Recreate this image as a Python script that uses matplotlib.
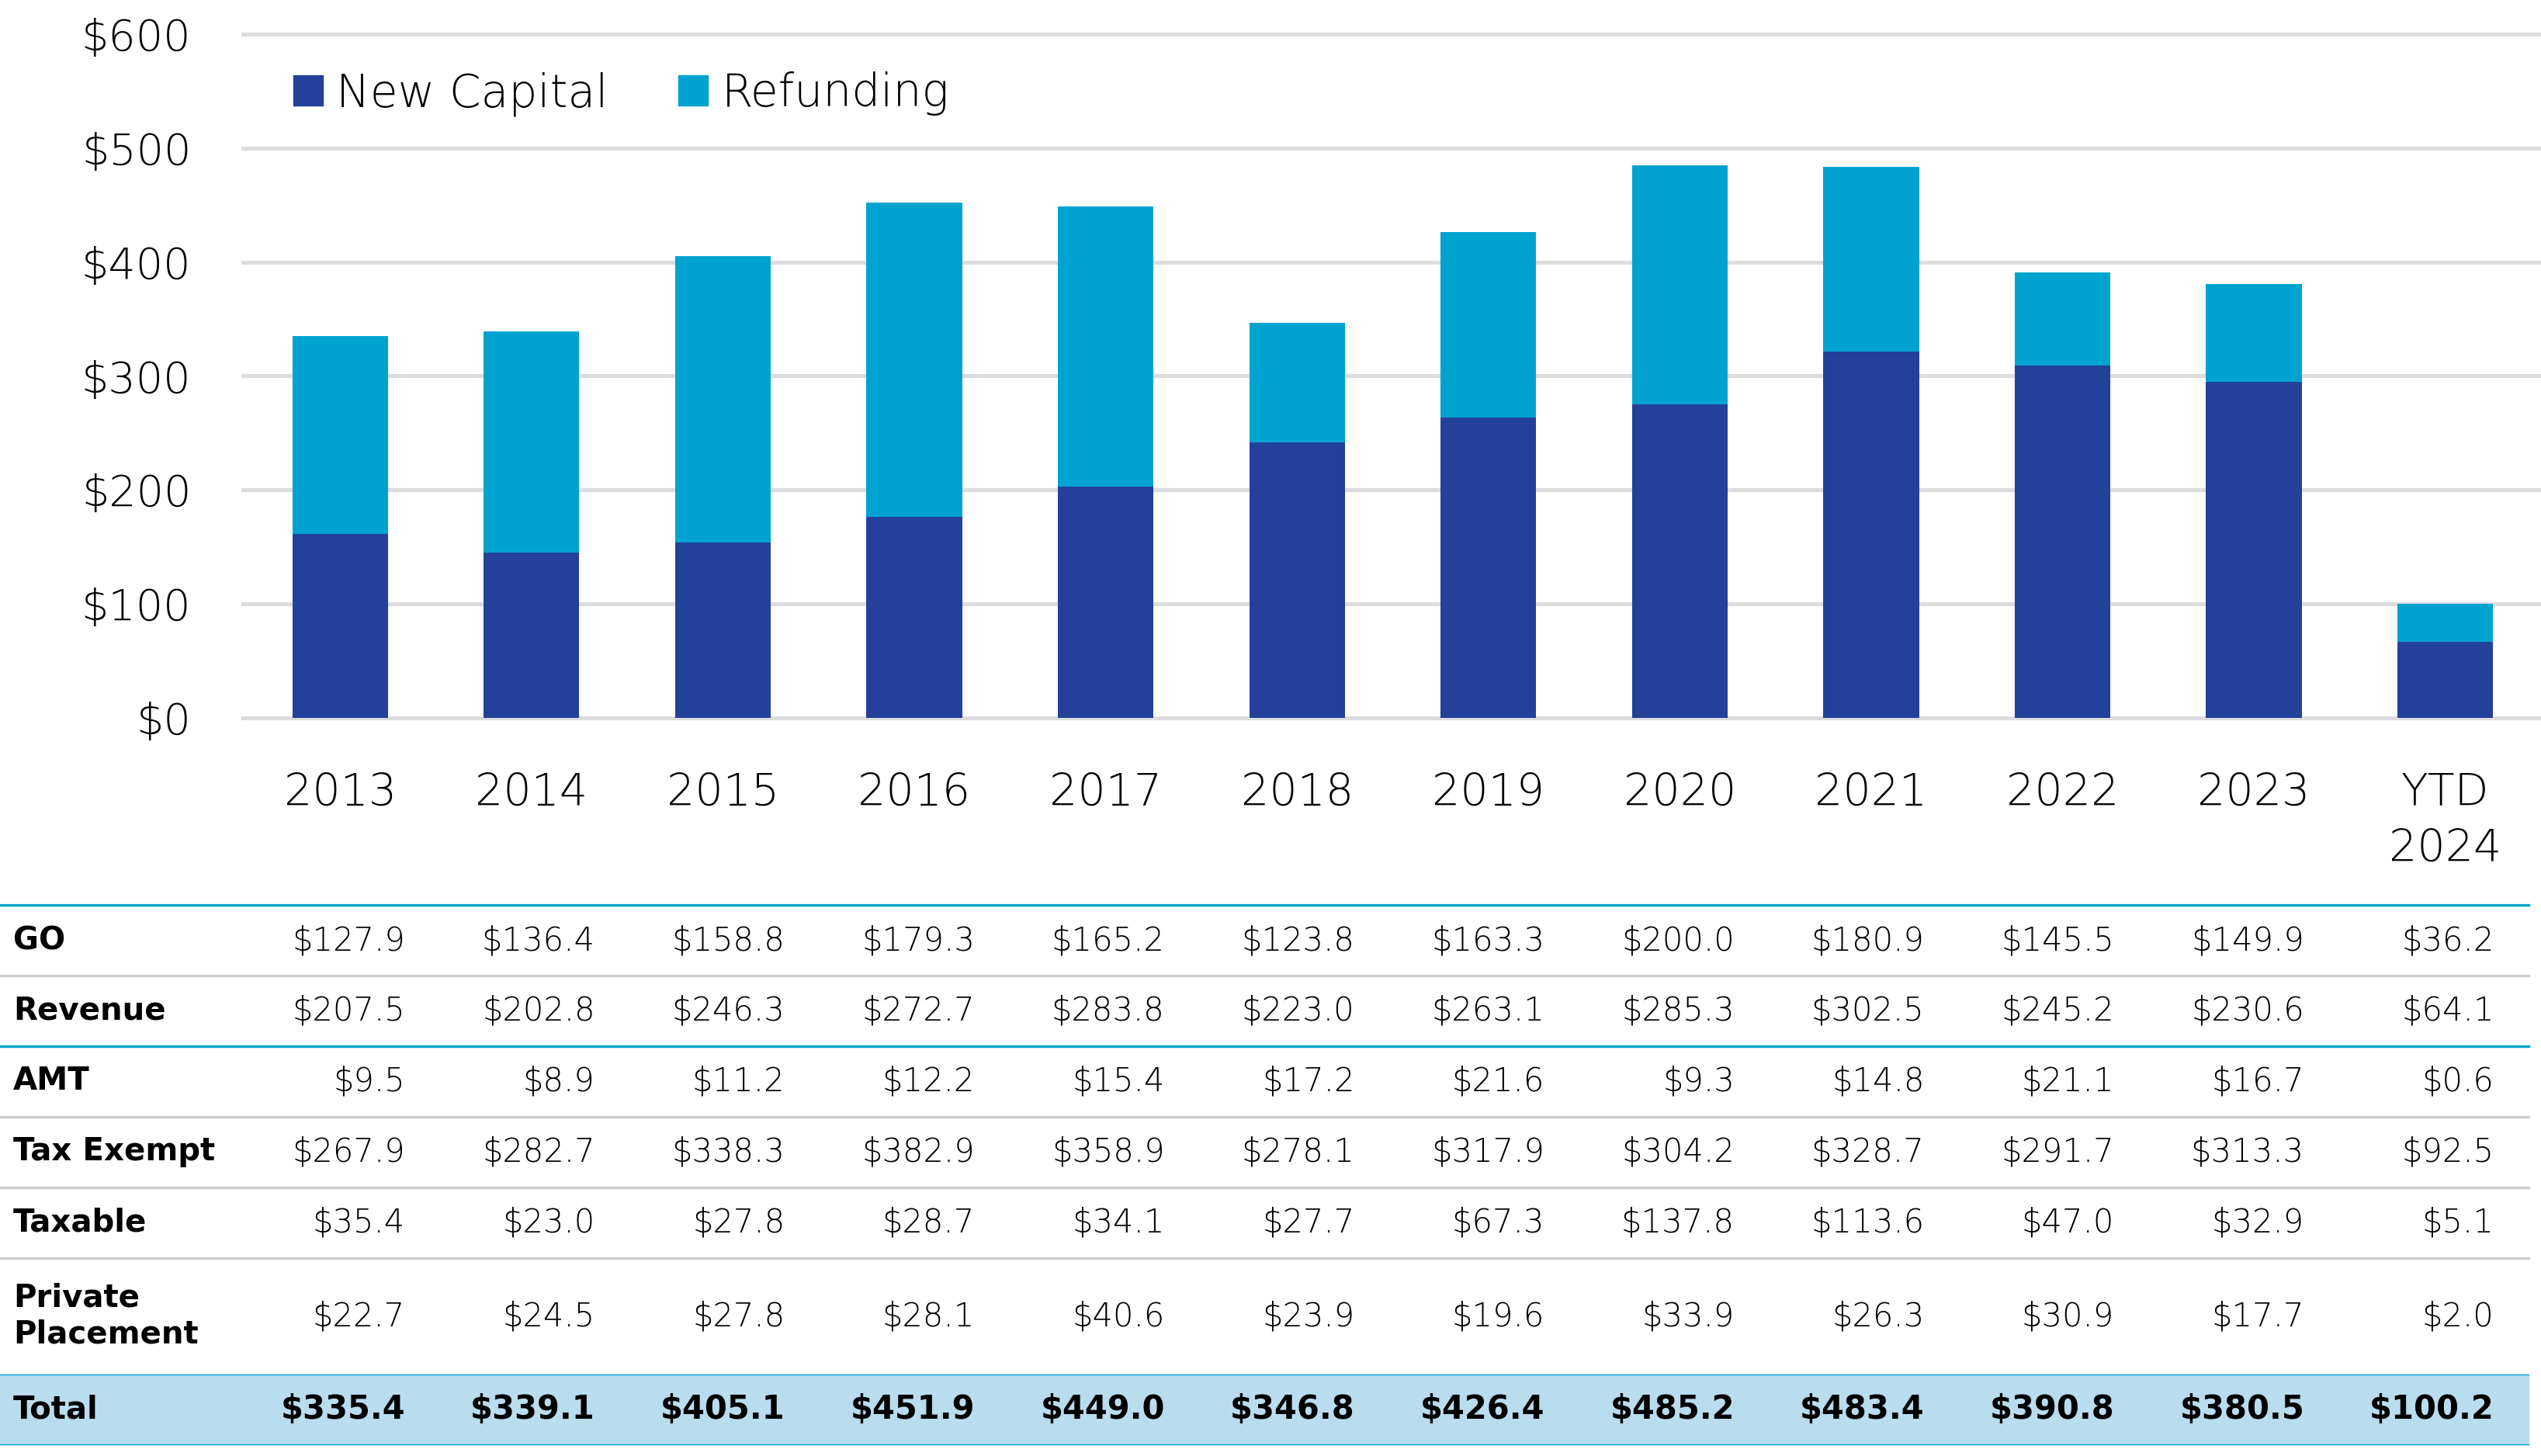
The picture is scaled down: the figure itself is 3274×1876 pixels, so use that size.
import matplotlib
import matplotlib.pyplot as plt
from matplotlib.patches import Patch, Rectangle
from matplotlib.lines import Line2D

matplotlib.rcParams['font.family'] = ['DejaVu Sans']
matplotlib.rcParams['font.weight'] = 200

# data
years = ['2013', '2014', '2015', '2016', '2017', '2018', '2019', '2020',
         '2021', '2022', '2023', 'YTD\n2024']
new_capital = [161.4, 145.3, 154.0, 176.6, 203.1, 241.5, 263.5, 275.0,
               321.2, 309.4, 294.8, 67.0]
total = [335.4, 339.1, 405.1, 451.9, 449.0, 346.8, 426.4, 485.2,
         483.4, 390.8, 380.5, 100.2]
refunding = [t - n for t, n in zip(total, new_capital)]

row_labels = ['GO', 'Revenue', 'AMT', 'Tax Exempt', 'Taxable',
              'Private\nPlacement', 'Total']
go = [127.9, 136.4, 158.8, 179.3, 165.2, 123.8, 163.3, 200.0, 180.9, 145.5, 149.9, 36.2]
revenue = [207.5, 202.8, 246.3, 272.7, 283.8, 223.0, 263.1, 285.3, 302.5, 245.2, 230.6, 64.1]
amt = [9.5, 8.9, 11.2, 12.2, 15.4, 17.2, 21.6, 9.3, 14.8, 21.1, 16.7, 0.6]
tax_exempt = [267.9, 282.7, 338.3, 382.9, 358.9, 278.1, 317.9, 304.2, 328.7, 291.7, 313.3, 92.5]
taxable = [35.4, 23.0, 27.8, 28.7, 34.1, 27.7, 67.3, 137.8, 113.6, 47.0, 32.9, 5.1]
private_placement = [22.7, 24.5, 27.8, 28.1, 40.6, 23.9, 19.6, 33.9, 26.3, 30.9, 17.7, 2.0]
table_rows = [go, revenue, amt, tax_exempt, taxable, private_placement, total]

dark_blue = '#23409A'
light_blue = '#00A3D0'
grid_gray = '#DCDCDE'
line_gray = '#CCCCCC'

W, H = 3274, 1876
fig = plt.figure(figsize=(W / 100, H / 100), dpi=100)


def fx(px):
    return px / W


def fy(py):
    return 1 - py / H


# 柱状图
ax = fig.add_axes([fx(313), fy(925), fx(W - 313), (925 - 44) / H])
x = list(range(len(years)))
ax.bar(x, new_capital, width=0.5, color=dark_blue, zorder=2)
ax.bar(x, refunding, width=0.5, bottom=new_capital, color=light_blue, zorder=2)
ax.set_xlim(-0.508, 11.5)
ax.set_ylim(0, 600)
for v in range(0, 601, 100):
    ax.axhline(v, color=grid_gray, linewidth=3.6, zorder=1, clip_on=False)
ax.set_yticks(range(0, 601, 100))
ax.set_yticklabels(['$' + str(v) for v in range(0, 601, 100)])
ax.set_xticks(x)
ax.set_xticklabels(years, linespacing=1.4)
ax.tick_params(axis='y', length=0, pad=48, labelsize=40)
ax.tick_params(axis='x', length=0, pad=50, labelsize=41)
for s in ax.spines.values():
    s.set_visible(False)

# 图例
handles = [Patch(color=dark_blue, label='New Capital'),
           Patch(color=light_blue, label='Refunding')]
fig.legend(handles=handles, loc='center left', bbox_to_anchor=(fx(378), fy(121)),
           ncol=2, frameon=False, fontsize=42, handlelength=0.65, handleheight=0.65,
           handletextpad=0.3, columnspacing=1.55, borderaxespad=0, borderpad=0)

# 表格
line_ys = [1166, 1257, 1348, 1439, 1530, 1621, 1771, 1861]
line_cols = [light_blue, line_gray, light_blue, line_gray, line_gray, line_gray,
             light_blue, light_blue]
line_w = [2.4, 2.4, 2.4, 2.4, 2.4, 2.4, 1.0, 1.0]
fig.patches.append(Rectangle((0, fy(1861)), fx(3258), (1861 - 1771) / H,
                             transform=fig.transFigure, color='#B9DCEE', zorder=0))
for yy, c, lw in zip(line_ys, line_cols, line_w):
    fig.add_artist(Line2D([0, fx(3258)], [fy(yy), fy(yy)], color=c, linewidth=lw))

row_centers = [1212, 1302, 1393, 1484, 1575, 1696, 1816]
col_right = [522 + 244.7 * i for i in range(len(years))]
for r, (label, vals, yc) in enumerate(zip(row_labels, table_rows, row_centers)):
    bold = 'bold' if label == 'Total' else 200
    fig.text(fx(17), fy(yc), label, fontsize=29, fontweight='bold',
             va='center', ha='left', linespacing=1.25)
    for xr, v in zip(col_right, vals):
        fig.text(fx(xr), fy(yc), '${:.1f}'.format(v), fontsize=30,
                 fontweight=bold, va='center', ha='right')

fig.savefig('out.png', dpi=100)
